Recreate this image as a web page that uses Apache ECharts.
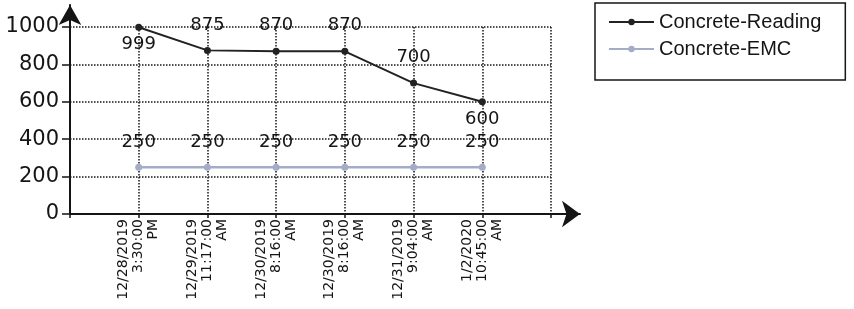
<!DOCTYPE html>
<html>
<head>
<meta charset="utf-8">
<script src="https://cdn.jsdelivr.net/npm/echarts@6/dist/echarts.min.js"></script>
<style>
  html, body { margin: 0; padding: 0; background: #fff; }
  #chart { width: 854px; height: 309px; }
</style>
</head>
<body>
<div id="chart"></div>
<script>
// category labels (one per reading time)
var dates = [
    '12/28/2019\n3:30:00\nPM',
    '12/29/2019\n11:17:00\nAM',
    '12/30/2019\n8:16:00\nAM',
    '12/30/2019\n8:16:00\nAM',
    '12/31/2019\n9:04:00\nAM',
    '1/2/2020\n10:45:00\nAM'
];
var readings = [999, 875, 870, 870, 700, 600];
var emc = [250, 250, 250, 250, 250, 250];
var seriesNames = ['Concrete-Reading', 'Concrete-EMC'];

var ink = '#151515';
var emcColor = '#a3adc8';

var myChart = echarts.init(document.getElementById('chart'));

// reading labels: first and last sit under the point, the rest above
var readingData = readings.map(function (v, i) {
    var below = (i === 0 || i === readings.length - 1);
    return {
        value: [i, v],
        label: { position: below ? 'bottom' : 'top', distance: below ? 5 : 13 }
    };
});
var emcData = emc.map(function (v, i) { return [i, v]; });

var option = {
    backgroundColor: '#fff',
    animation: false,
    textStyle: { fontFamily: 'DejaVu Sans', color: ink },
    legend: {
        orient: 'vertical',
        left: 595,
        top: 3,
        padding: [9, 24, 21, 13],
        itemGap: 7,
        itemWidth: 45,
        itemHeight: 8,
        borderColor: ink,
        borderWidth: 1.5,
        textStyle: { fontFamily: 'Liberation Sans', fontSize: 20, color: ink },
        data: seriesNames
    },
    grid: [
        // plot area
        { left: 70, right: 303, top: 27, bottom: 95 },
        // only carries the two arrowed axis lines, a bit longer than the plot
        { left: 70, right: 274, top: 5, bottom: 95 }
    ],
    xAxis: [{
        gridIndex: 0,
        type: 'value',
        min: -1,
        max: 6,
        interval: 1,
        axisLine: { show: false, onZero: false },
        axisTick: { show: true, length: 4, lineStyle: { color: ink, width: 1.5 } },
        axisLabel: {
            rotate: 90,
            margin: 5,
            fontSize: 14,
            lineHeight: 15,
            color: ink,
            formatter: function (v) { return dates[v] || ''; }
        },
        splitLine: { show: true, lineStyle: { color: ink, width: 1.5, type: [1.5, 1.5] } }
    }, {
        gridIndex: 1,
        type: 'value',
        axisLine: {
            show: true,
            onZero: false,
            symbol: ['none', 'arrow'],
            symbolSize: [20, 18],
            lineStyle: { color: ink, width: 2 }
        },
        axisTick: { show: false },
        axisLabel: { show: false },
        splitLine: { show: false }
    }],
    yAxis: [{
        gridIndex: 0,
        type: 'value',
        min: 0,
        max: 1000,
        interval: 200,
        axisLine: { show: false, onZero: false },
        axisTick: { show: true, length: 8, lineStyle: { color: ink, width: 1.5 } },
        axisLabel: {
            margin: 11,
            fontSize: 21,
            color: ink,
            formatter: function (v) { return String(v); }
        },
        splitLine: { show: true, lineStyle: { color: ink, width: 1.5, type: [1.5, 1.5] } }
    }, {
        gridIndex: 1,
        type: 'value',
        axisLine: {
            show: true,
            onZero: false,
            symbol: ['none', 'arrow'],
            symbolSize: [17, 20],
            lineStyle: { color: ink, width: 2 }
        },
        axisTick: { show: false },
        axisLabel: { show: false },
        splitLine: { show: false }
    }],
    series: [{
        name: seriesNames[0],
        type: 'line',
        xAxisIndex: 0,
        yAxisIndex: 0,
        data: readingData,
        symbol: 'circle',
        symbolSize: 7,
        itemStyle: { color: '#222' },
        lineStyle: { color: '#222', width: 2 },
        label: { show: true, fontSize: 18, color: ink }
    }, {
        name: seriesNames[1],
        type: 'line',
        xAxisIndex: 0,
        yAxisIndex: 0,
        data: emcData,
        symbol: 'circle',
        symbolSize: 7,
        itemStyle: { color: emcColor },
        lineStyle: { color: emcColor, width: 2.5 },
        label: { show: true, position: 'top', distance: 12, fontSize: 18, color: ink }
    }]
};
myChart.setOption(option);
</script>
</body>
</html>
